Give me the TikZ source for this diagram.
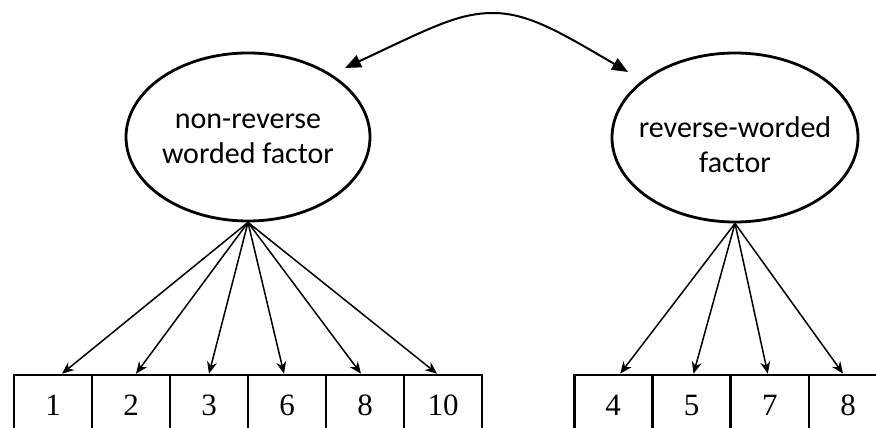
\documentclass[tikz,border=0pt]{standalone}
\usepackage{fontspec}
\setmainfont{Liberation Serif}
\newfontfamily\calib{Carlito}
\usetikzlibrary{arrows.meta,shapes.geometric}
\begin{document}
\begin{tikzpicture}[x=1pt,y=-1pt,
  factor/.style={draw, ellipse, line width=2.8pt, inner sep=0pt},
  item/.style={draw, line width=2.6pt, minimum width=78pt, minimum height=60pt, inner sep=0pt, font=\fontsize{31}{31}\selectfont},
  load/.style={-{Stealth[length=12pt,width=10pt]}, line width=1.5pt},
  corr/.style={{Triangle[length=16pt,width=13pt]}-{Triangle[length=16pt,width=13pt]}, line width=2pt},
  ftext/.style={align=center, inner sep=0pt, font=\calib\fontsize{30}{35}\selectfont}
]
\useasboundingbox (0,0) rectangle (876,428);
\clip (0,0) rectangle (876,428);

\node[factor, minimum width=244pt, minimum height=168pt] (L) at (248,137) {};
\node[ftext] (Lt) at (248,139) {non-reverse\\worded factor};
\node[factor, minimum width=246pt, minimum height=169pt] (R) at (735,137.5) {};
\node[ftext] (Rt) at (735,145) {reverse-worded\\factor};

\foreach \lbl [count=\i from 0] in {1,2,3,6,8,10}
  \node[item] (a\i) at (53+78*\i,405) {\lbl};
\foreach \lbl [count=\i from 0] in {4,5,7,8}
  \node[item] (b\i) at (613.2+78.3*\i,405) {\lbl};

\foreach \i/\d in {0/9,1/5,2/0,3/-3,4/-4,5/-6}
  \draw[load] (L.south) -- ([xshift=\d pt]a\i.north);
\foreach \i/\d in {0/7,1/2,2/-2,3/-5}
  \draw[load] (R.south) -- ([xshift=\d pt]b\i.north);

\coordinate (cl) at (345,68);
\coordinate (cr) at (628,72);
\coordinate (ctop) at (493,13);
\draw[corr] (cl) .. controls (430,28) and (458,13) .. (ctop) .. controls (528,13) and (560,32) .. (cr);
\end{tikzpicture}
\end{document}
